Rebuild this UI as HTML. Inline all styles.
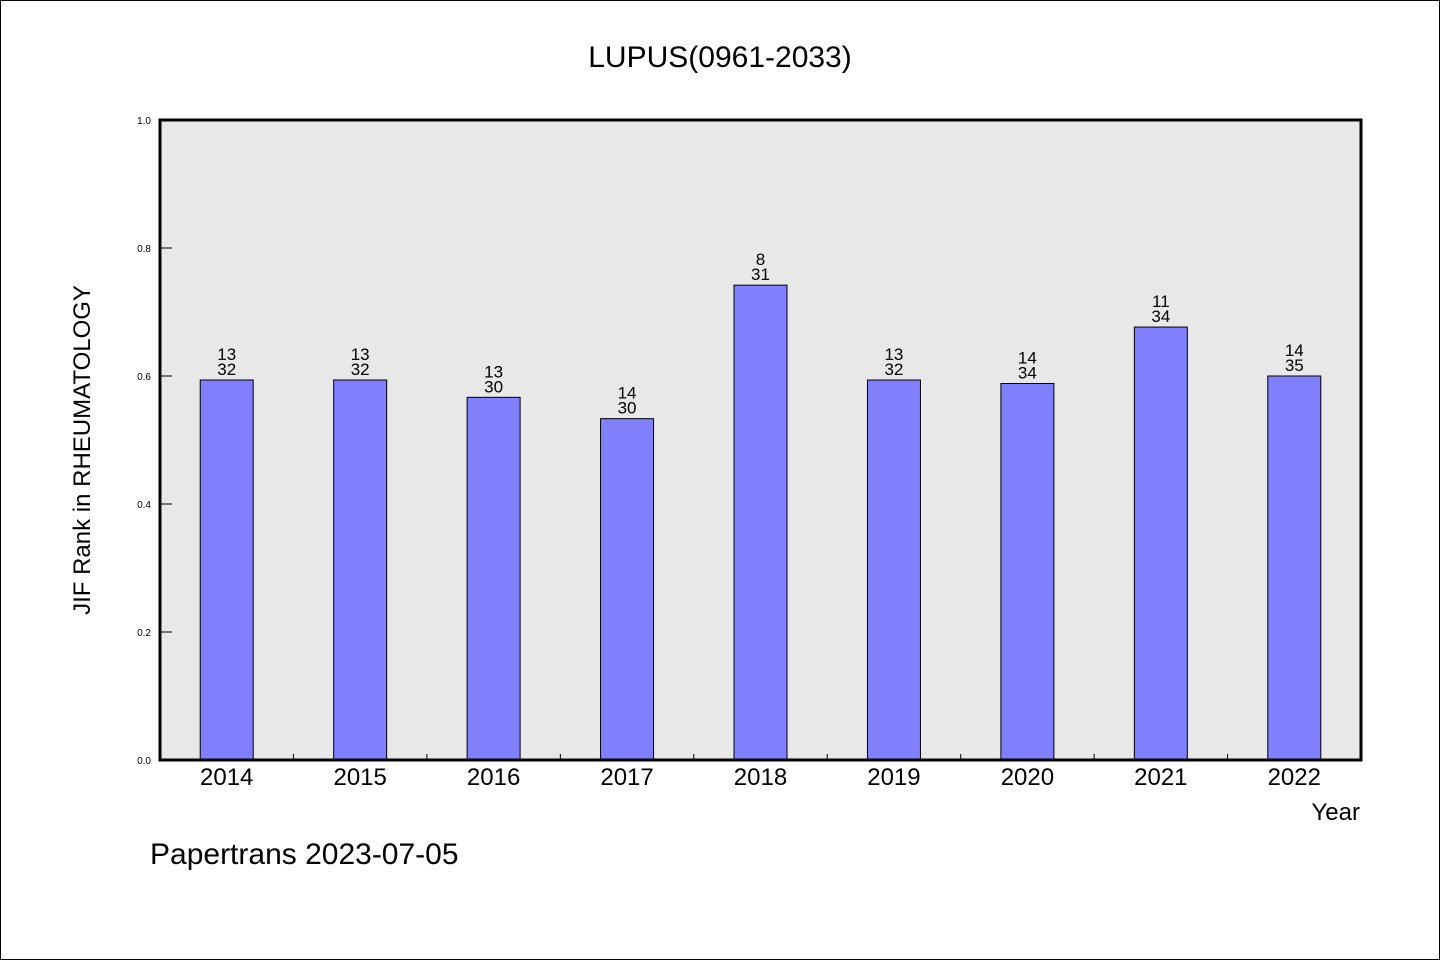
<!DOCTYPE html>
<html><head><meta charset="utf-8"><style>
body{margin:0;background:#fff}
svg{display:block}
text{font-family:"WenQuanYi Zen Hei","Liberation Sans",sans-serif;fill:#000}
</style></head><body>
<svg id="chart" width="1440" height="960">
<rect x="0.5" y="0.5" width="1439" height="959" fill="#fff" stroke="#000"/>
<text x="720" y="67" font-size="30" text-anchor="middle">LUPUS(0961-2033)</text>
<rect x="160" y="120" width="1201" height="640" fill="#e8e8e8"/>
<g id="bars"></g>
<rect x="160" y="120" width="1201" height="640" fill="none" stroke="#000" stroke-width="3"/>
<g id="yticks"></g>
<text transform="translate(90,450) rotate(-90)" font-size="24" text-anchor="middle">JIF Rank in RHEUMATOLOGY</text>
<text x="1360" y="820" font-size="24" text-anchor="end">Year</text>
<text x="150" y="864" font-size="30">Papertrans 2023-07-05</text>
</svg>
<script>
const years=["2014","2015","2016","2017","2018","2019","2020","2021","2022"];
const ranks=[13,13,13,14,8,13,14,11,14];
const totals=[32,32,30,30,31,32,34,34,35];
const yTickLabels=["0.0","0.2","0.4","0.6","0.8","1.0"];
const NS="http://www.w3.org/2000/svg";
const x0=160,x1=1361,y0=760,y1=120;
const slot=(x1-x0)/years.length;
const ys=v=>y0-v*(y0-y1);
const xc=i=>x0+slot*(i+0.5);
function mk(t,a,p){const e=document.createElementNS(NS,t);for(const k in a)e.setAttribute(k,a[k]);p.appendChild(e);return e;}
const bars=document.getElementById('bars'),yt=document.getElementById('yticks');
years.forEach((yr,i)=>{
 const v=1-ranks[i]/totals[i];const w=53;
 const r=mk('rect',{x:xc(i)-w/2,y:ys(v),width:w,height:y0-ys(v),fill:'#8080ff',stroke:'#000','stroke-width':1},bars);
 
 
 const t1=mk('text',{x:xc(i),y:ys(v)-20,'font-size':17,'text-anchor':'middle'},bars);t1.textContent=ranks[i];
 
 
 const t2=mk('text',{x:xc(i),y:ys(v)-5,'font-size':17,'text-anchor':'middle'},bars);t2.textContent=totals[i];
 
 
 const xl=mk('text',{x:xc(i),y:785,'font-size':24,'text-anchor':'middle'},yt);xl.textContent=yr;
 
 
 if(i>0){const tk=mk('line',{x1:x0+slot*i,x2:x0+slot*i,y1:y0,y2:y0-6,stroke:'#000'},yt);
 
 }
});
yTickLabels.forEach(l=>{
 const y=ys(parseFloat(l));
 const tk=mk('line',{x1:x0,x2:x0+12,y1:y,y2:y,stroke:'#000'},yt);
 
 
 const t=mk('text',{x:151,y:y+4,'font-size':10,'text-anchor':'end'},yt);t.textContent=l;
 
 
});
</script>
</body></html>
